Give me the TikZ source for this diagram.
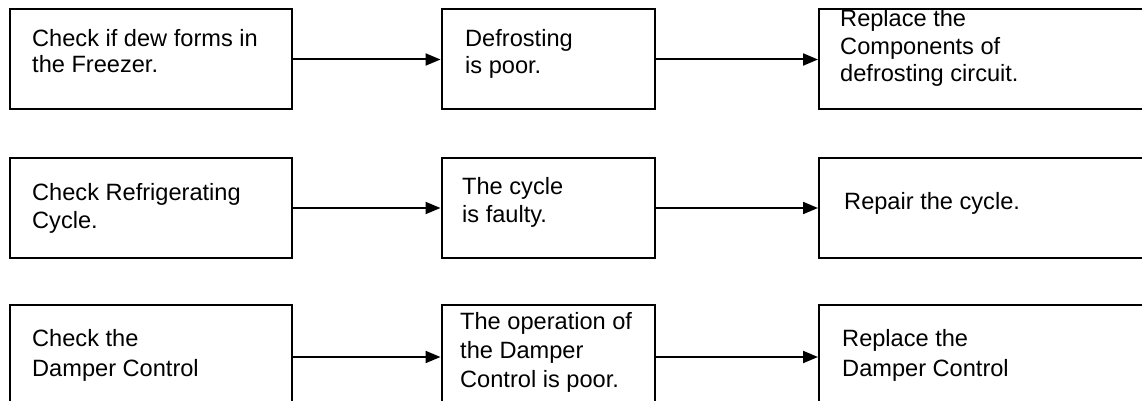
\documentclass[tikz,border=0pt]{standalone}
\usepackage{fontspec}
\setmainfont{Liberation Sans}
\usetikzlibrary{arrows.meta}
\begin{document}
\begin{tikzpicture}[x=1pt,y=-1pt,
  box/.style={draw=black,line width=2pt,rectangle,inner sep=0pt,minimum height=100pt},
  txt/.style={anchor=base west,inner sep=0pt,align=left,text=black},
  arr/.style={draw=black,line width=2pt,-{Triangle[length=15pt,width=12pt]}}]
\useasboundingbox (0,0) rectangle (1142,401);
\clip (0,0) rectangle (1142,401);
% boxes
\node[box,minimum width=282pt] (b11) at (151,59.5) {};
\node[box,minimum width=213pt] (b12) at (548,59.5) {};
\node[box,minimum width=340pt] (b13) at (989,59.5) {};
\node[box,minimum width=282pt] (b21) at (151,208) {};
\node[box,minimum width=213pt] (b22) at (548,208) {};
\node[box,minimum width=340pt] (b23) at (989,208) {};
\node[box,minimum width=282pt,minimum height=104pt] (b31) at (151,357) {};
\node[box,minimum width=213pt,minimum height=104pt] (b32) at (548,357) {};
\node[box,minimum width=340pt,minimum height=104pt] (b33) at (989,357) {};
% texts (anchor = baseline of the last line)
\node[txt,font=\fontsize{23.6}{26}\selectfont] (t11) at (32,73) {Check if dew forms in\\the Freezer.};
\node[txt,font=\fontsize{23.6}{27.5}\selectfont] (t12) at (465,74) {Defrosting\\is poor.};
\node[txt,font=\fontsize{23.6}{27.5}\selectfont] (t13) at (840,82) {Replace the\\Components of\\defrosting circuit.};
\node[txt,font=\fontsize{23.6}{28}\selectfont] (t21) at (32,228) {Check Refrigerating\\Cycle.};
\node[txt,font=\fontsize{23.6}{28}\selectfont] (t22) at (462,222) {The cycle\\is faulty.};
\node[txt,font=\fontsize{23.6}{28}\selectfont] (t23) at (844,209) {Repair the cycle.};
\node[txt,font=\fontsize{23.6}{30}\selectfont] (t31) at (32,376) {Check the\\Damper Control};
\node[txt,font=\fontsize{23.6}{29}\selectfont] (t32) at (460,387) {The operation of\\the Damper\\Control is poor.};
\node[txt,font=\fontsize{23.6}{30}\selectfont] (t33) at (842,376) {Replace the\\Damper Control};
% arrows
\draw[arr] (b11) -- (b12);
\draw[arr] (b12) -- (b13);
\draw[arr] (b21) -- (b22);
\draw[arr] (b22) -- (b23);
\draw[arr] (b31) -- (b32);
\draw[arr] (b32) -- (b33);
\end{tikzpicture}
\end{document}
